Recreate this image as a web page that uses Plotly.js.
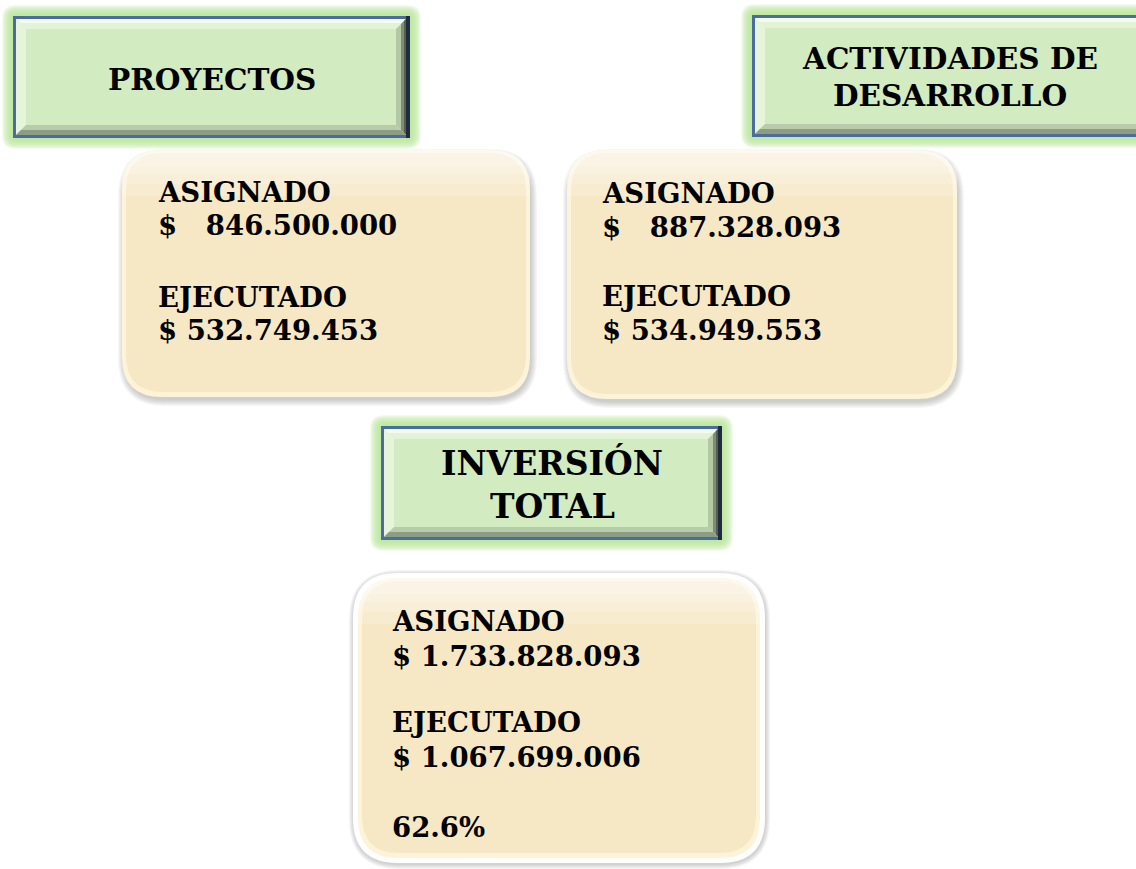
<!DOCTYPE html>
<html>
<head>
<meta charset="utf-8">
<script src="https://cdn.plot.ly/plotly-3.0.1.min.js"></script>
<style>html,body{margin:0;padding:0;background:#fff;}#chart{width:1136px;height:869px;}</style>
</head>
<body>
<div id="chart"></div>
<script>
// ---- data ----
const sectionTitles = ["PROYECTOS", "ACTIVIDADES DE<br>DESARROLLO", "INVERSIÓN<br>TOTAL"];
const labelAsignado = "ASIGNADO";
const labelEjecutado = "EJECUTADO";
const asignado = ["846.500.000", "887.328.093", "1.733.828.093"];
const ejecutado = ["532.749.453", "534.949.553", "1.067.699.006"];
const asignadoPrefix = ["$   ", "$   ", "$ "];
const ejecutadoPrefix = ["$ ", "$ ", "$ "];
const porcentajeTotal = "62.6%";

// ---- layout geometry (pixels) ----
const W = 1136, H = 869;
const greenBoxes = [
  {x0: 13, y0: 16, x1: 410, y1: 138, tx: 212, ty: [79], size: 29.5},
  {x0: 752, y0: 15, x1: 1150, y1: 137, tx: 950, ty: [58, 95], size: 29.5},
  {x0: 381, y0: 426, x1: 722, y1: 540, tx: 552, ty: [463, 506], size: 33}
];
const creamBoxes = [
  {x0: 122, y0: 150, x1: 530, y1: 397, tx: 156, ty: [192, 225, 297, 330], border: false},
  {x0: 567, y0: 150, x1: 957, y1: 399, tx: 600, ty: [193, 227, 296, 330], border: false},
  {x0: 358, y0: 578, x1: 760, y1: 858, tx: 390, ty: [621, 656, 722, 757, 827], border: true}
];

const shapes = [];
const annotations = [];
const FONT = "DejaVu Serif, Bookman Old Style, serif";

function rrPath(x0, y0, x1, y1, r, flatBottom) {
  const top = `M ${x0},${y0 + r} Q ${x0},${y0} ${x0 + r},${y0} L ${x1 - r},${y0} Q ${x1},${y0} ${x1},${y0 + r}`;
  if (flatBottom) return top + ` L ${x1},${y1} L ${x0},${y1} Z`;
  return top + ` L ${x1},${y1 - r} Q ${x1},${y1} ${x1 - r},${y1} L ${x0 + r},${y1} Q ${x0},${y1} ${x0},${y1 - r} Z`;
}
function rect(x0, y0, x1, y1, fill, opacity) {
  shapes.push({type: "rect", xref: "x", yref: "y", x0, y0, x1, y1, fillcolor: fill, opacity: opacity == null ? 1 : opacity, line: {width: 0}, layer: "above"});
}
function poly(pts, fill, opacity) {
  const d = "M " + pts.map(p => p[0] + "," + p[1]).join(" L ") + " Z";
  shapes.push({type: "path", xref: "x", yref: "y", path: d, fillcolor: fill, opacity: opacity == null ? 1 : opacity, line: {width: 0}, layer: "above"});
}
function rr(x0, y0, x1, y1, r, fill, opacity, flatBottom) {
  shapes.push({type: "path", xref: "x", yref: "y", path: rrPath(x0, y0, x1, y1, r, flatBottom), fillcolor: fill, opacity: opacity == null ? 1 : opacity,
    line: {width: 0}, layer: "above"});
}

// green bevelled title boxes
greenBoxes.forEach((b, i) => {
  // soft glow
  for (let k = 11; k >= 1; k--) {
    rr(b.x0 - k, b.y0 - k, b.x1 + k, b.y1 + k, k + 3, "#b4e496", 0.16);
  }
  // border: blue top/left/bottom, dark navy right
  rect(b.x0, b.y0, b.x1, b.y1, "#4b6c9c");
  rect(b.x1 - 4, b.y0, b.x1, b.y1, "#1e2b40");
  // face
  const ix0 = b.x0 + 3, iy0 = b.y0 + 3, ix1 = b.x1 - 4, iy1 = b.y1 - 3;
  rect(ix0, iy0, ix1, iy1, "#d2ebc0");
  const bv = 10;
  // top highlight
  poly([[ix0, iy0], [ix1, iy0], [ix1 - bv, iy0 + bv], [ix0 + bv, iy0 + bv]], "#f4fbec");
  poly([[ix0 + 4, iy0 + 4], [ix1 - 4, iy0 + 4], [ix1 - bv, iy0 + bv], [ix0 + bv, iy0 + bv]], "#e3f4d6");
  // left highlight
  poly([[ix0, iy0], [ix0 + bv, iy0 + bv], [ix0 + bv, iy1 - bv], [ix0, iy1]], "#e6f5da");
  // right shade
  poly([[ix1, iy0], [ix1, iy1], [ix1 - bv, iy1 - bv], [ix1 - bv, iy0 + bv]], "#b4c8a5");
  poly([[ix1, iy0], [ix1, iy1], [ix1 - 5, iy1 - 5], [ix1 - 5, iy0 + 5]], "#7e8e76");
  poly([[ix1, iy0], [ix1, iy1], [ix1 - 2, iy1 - 2], [ix1 - 2, iy0 + 2]], "#55604f");
  // bottom shade
  poly([[ix0, iy1], [ix0 + bv, iy1 - bv], [ix1 - bv, iy1 - bv], [ix1, iy1]], "#b9cbab");
  poly([[ix0, iy1], [ix0 + 5, iy1 - 5], [ix1 - 5, iy1 - 5], [ix1, iy1]], "#8d9c84");
  // title text
  const lines = sectionTitles[i].split("<br>");
  lines.forEach((t, j) => {
    annotations.push({xref: "x", yref: "y", x: b.tx, y: b.ty[j], text: "<b>" + t + "</b>", showarrow: false,
      xanchor: "center", yanchor: "middle", font: {family: FONT, size: b.size, color: "#000"}});
  });
});

// cream rounded boxes
creamBoxes.forEach((b, i) => {
  const r = 40;
  if (b.border) {
    // grey halo around the white frame
    for (let k = 10; k >= 6; k--) {
      rr(b.x0 - k + 1, b.y0 - k + 2, b.x1 + k, b.y1 + k + 1, r + k, "#6e6e6e", 0.07);
    }
    rr(b.x0 - 5, b.y0 - 5, b.x1 + 5, b.y1 + 5, r + 5, "#ffffff", 1);
  } else {
    for (let k = 7; k >= 1; k--) {
      rr(b.x0 - k + 3, b.y0 - k + 6, b.x1 + k, b.y1 + k + 2, r + k, "#7a7a7a", 0.06);
    }
  }
  // light rim then cream body
  rr(b.x0, b.y0, b.x1, b.y1, r, "#fcf3d8");
  rr(b.x0 + 4, b.y0 + 3, b.x1 - 4, b.y1 - 5, r - 3, "#f7e8c5");
  // top light gradient (white fading into cream)
  [8, 16, 26, 38].forEach((h) => {
    rr(b.x0, b.y0, b.x1, b.y0 + h + r * 0.2, r, "#ffffff", 0.2, true);
  });
  const texts = [labelAsignado, asignadoPrefix[i] + asignado[i], labelEjecutado, ejecutadoPrefix[i] + ejecutado[i]];
  if (i === 2) texts.push(porcentajeTotal);
  texts.forEach((t, j) => {
    annotations.push({xref: "x", yref: "y", x: b.tx, y: b.ty[j], text: "<b>" + t.replace(/ /g, "&nbsp;") + "</b>", showarrow: false,
      xanchor: "left", yanchor: "middle", font: {family: FONT, size: 27.5, color: "#000"}});
  });
});

const layout = {
  width: W, height: H,
  margin: {l: 0, r: 0, t: 0, b: 0, pad: 0},
  paper_bgcolor: "#ffffff", plot_bgcolor: "#ffffff",
  xaxis: {range: [0, W], visible: false, fixedrange: true, showgrid: false, zeroline: false},
  yaxis: {range: [H, 0], visible: false, fixedrange: true, showgrid: false, zeroline: false},
  shapes, annotations, showlegend: false
};
Plotly.newPlot("chart", [], layout, {displayModeBar: false, staticPlot: true});
</script>
</body>
</html>
